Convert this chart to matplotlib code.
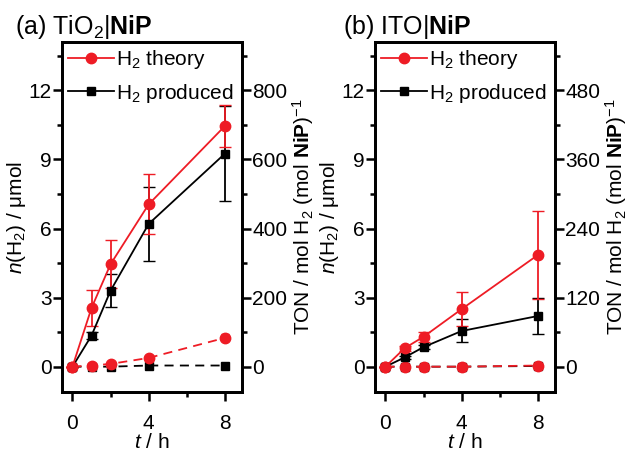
import matplotlib
matplotlib.use("Agg")
import matplotlib.pyplot as plt
from matplotlib.lines import Line2D
from matplotlib.ticker import MultipleLocator

plt.rcParams['font.family'] = ['Liberation Sans', 'DejaVu Sans']
plt.rcParams['mathtext.fontset'] = 'custom'
plt.rcParams['mathtext.rm'] = 'Liberation Sans'
plt.rcParams['mathtext.it'] = 'Liberation Sans:italic'
plt.rcParams['mathtext.bf'] = 'Liberation Sans:bold'
plt.rcParams['font.size'] = 15

t = [0, 1, 2, 4, 8]

# panel (a) TiO2|NiP
a_theory = [0, 2.55, 4.45, 7.05, 10.45]
a_theory_err = [0, 0.78, 1.05, 1.3, 0.9]
a_prod = [0, 1.35, 3.3, 6.2, 9.25]
a_prod_err = [0, 0.15, 0.72, 1.6, 2.05]
a_ctrl_theory = [0, 0.05, 0.12, 0.38, 1.25]
a_ctrl_theory_err = [0, 0.03, 0.04, 0.06, 0.15]
a_ctrl_prod = [0, 0.0, 0.0, 0.05, 0.05]
a_ctrl_prod_err = [0, 0.02, 0.02, 0.03, 0.05]

# panel (b) ITO|NiP
b_theory = [0, 0.8, 1.3, 2.5, 4.85]
b_theory_err = [0, 0.1, 0.22, 0.75, 1.9]
b_prod = [0, 0.4, 0.85, 1.55, 2.2]
b_prod_err = [0, 0.08, 0.1, 0.5, 0.78]
b_ctrl_theory = [0, 0, 0, 0, 0.05]
b_ctrl_prod = [0, 0, 0, 0, 0.03]

panels = [
    ("(a) TiO$_2$|$\\mathbf{NiP}$", a_theory, a_theory_err, a_prod, a_prod_err,
     a_ctrl_theory, a_ctrl_theory_err, a_ctrl_prod, a_ctrl_prod_err, 800 / 12, 200),
    ("(b) ITO|$\\mathbf{NiP}$", b_theory, b_theory_err, b_prod, b_prod_err,
     b_ctrl_theory, [0] * 5, b_ctrl_prod, [0] * 5, 480 / 12, 120),
]

red = '#ee1c25'
fig = plt.figure(figsize=(6.32, 4.58), dpi=100)
lefts = [62 / 632, 375 / 632]
title_x = [-0.26, -0.18]
for i, (title, th, the, pr, pre, cth, cthe, cpr, cpre, scale, rstep) in enumerate(panels):
    ax = fig.add_axes([lefts[i], 1 - 392 / 458, 180 / 632, 350 / 458])
    ax.errorbar(t, cpr, yerr=cpre, color='black', ls=(0, (5, 3.5)), lw=1.3, marker='s',
                ms=6, capsize=3, elinewidth=1.3)
    ax.errorbar(t, cth, yerr=cthe, color=red, ls=(0, (5, 3.5)), lw=1.3, marker='o',
                ms=7.5, capsize=3, elinewidth=1.3)
    ax.errorbar(t, pr, yerr=pre, color='black', lw=1.3, marker='s', ms=6,
                capsize=4, elinewidth=1.3)
    ax.errorbar(t, th, yerr=the, color=red, lw=1.3, marker='o', ms=7.5,
                capsize=4, elinewidth=1.3)
    ax.set_xlim(-0.55, 8.9)
    ax.set_ylim(-1.1, 14.1)
    ax.xaxis.set_major_locator(MultipleLocator(4))
    ax.xaxis.set_minor_locator(MultipleLocator(2))
    ax.yaxis.set_major_locator(MultipleLocator(3))
    ax.yaxis.set_minor_locator(MultipleLocator(1.5))
    ax.tick_params(which='both', direction='out', width=1.8, top=False, right=False)
    ax.tick_params(which='major', length=6.5)
    ax.tick_params(which='minor', length=3.5)
    ax.tick_params(axis='y', pad=1)
    ax.tick_params(axis='x', pad=9)
    for s in ax.spines.values():
        s.set_linewidth(2)
    ax.set_xlabel('$t$ / h', labelpad=0)
    ax.set_ylabel('$n$(H$_2$) / μmol', labelpad=0)
    ax.set_title(title, loc='left', x=title_x[i], pad=6)
    handles = [
        Line2D([], [], color=red, lw=1.3, marker='o', ms=7.5),
        Line2D([], [], color='black', lw=1.3, marker='s', ms=6),
    ]
    ax.legend(handles, ['H$_2$ theory', 'H$_2$ produced'], loc='upper left',
              frameon=False, handlelength=2.2, handletextpad=0.1,
              borderaxespad=0.1, borderpad=0.2, labelspacing=0.5)

    ax2 = ax.twinx()
    lo, hi = ax.get_ylim()
    ax2.set_ylim(lo * scale, hi * scale)
    ax2.yaxis.set_minor_locator(MultipleLocator(rstep / 2))
    ax2.set_yticks([v for v in range(0, int(12 * scale) + 1, rstep)])
    ax2.tick_params(which='both', direction='out', width=1.8, pad=1)
    ax2.tick_params(which='major', length=6.5)
    ax2.tick_params(which='minor', length=3.5)
    for s in ax2.spines.values():
        s.set_linewidth(2)
    ax2.set_ylabel('TON / mol H$_2$ (mol $\\mathbf{NiP}$)$^{-1}$', labelpad=2)

fig.savefig('out.png', dpi=100)
